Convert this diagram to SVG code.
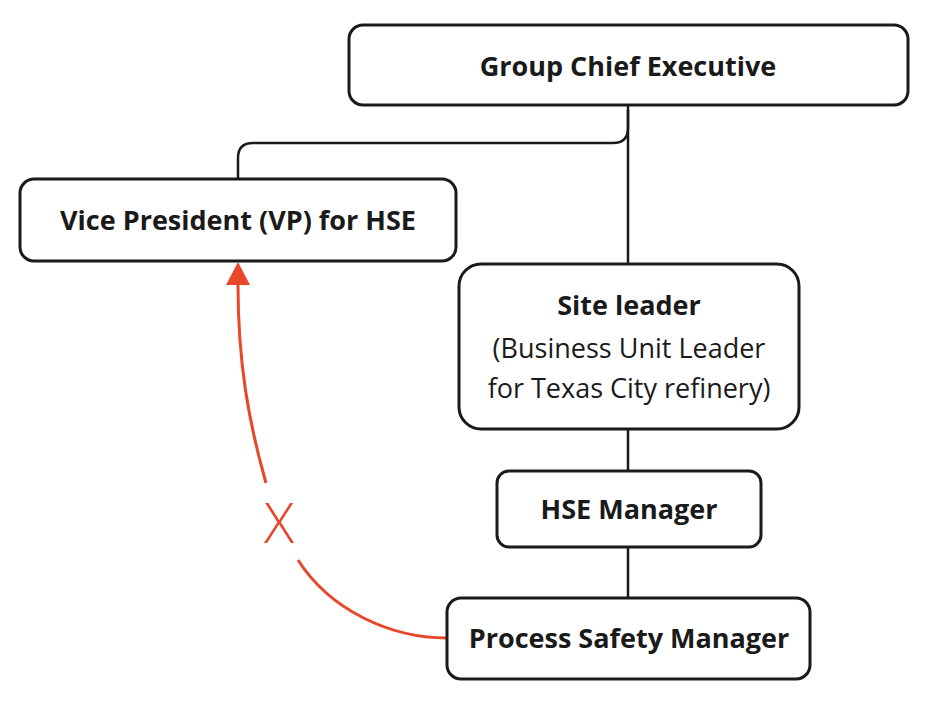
<svg xmlns="http://www.w3.org/2000/svg" width="940" height="707" viewBox="0 0 940 707">
<style>
.box{fill:#fff;stroke:#1a1a1a;stroke-width:3}
.t{font-family:"Open Sans","Noto Sans",sans-serif;font-size:27px;fill:#1a1a1a;text-anchor:middle}
.b{font-weight:700}
.l{font-weight:400}
.c{fill:none;stroke:#1a1a1a;stroke-width:2.5}
.r{fill:none;stroke:#e8472a;stroke-width:3}
</style>
<defs>
<marker id="ah" viewBox="0 0 10 10" refX="9" refY="5" markerWidth="8" markerHeight="8" markerUnits="userSpaceOnUse" orient="auto" style="overflow:visible">
<path d="M0,0 L10,5 L0,10 Z" fill="#e8472a" transform="scale(2.4)"/>
</marker>
</defs>
<rect width="940" height="707" fill="#fff"/>
<g id="connectors">
<path class="c" d="M628,105 V264"/>
<path class="c" d="M628,110 V128 Q628,143 613,143 H253 Q238,143 238,158 V179"/>
<path class="c" d="M628,429 V471"/>
<path class="c" d="M628,547 V598"/>
<path class="r" d="M447,638 C390,638 330,610 298,560"/>
<path class="r" d="M266,483 C248,420 238,360 238,285"/>
<path d="M238,262 L250,285 L226,285 Z" fill="#e8472a"/>
<text x="279" y="543" font-family="Open Sans,sans-serif" font-size="56" font-weight="300" fill="#e8472a" text-anchor="middle">X</text>
</g>
<g id="gce"><rect class="box" x="349" y="25" width="559" height="80" rx="14"/><text class="t b" x="628" y="76">Group Chief Executive</text></g>
<g id="vp"><rect class="box" x="20" y="179" width="436" height="82" rx="14"/><text class="t b" x="238" y="230">Vice President (VP) for HSE</text></g>
<g id="site"><rect class="box" x="459" y="264" width="340" height="165" rx="22"/>
<text class="t b" x="629" y="315">Site leader</text>
<text class="t l" x="629" y="358">(Business Unit Leader</text>
<text class="t l" x="629" y="398">for Texas City refinery)</text></g>
<g id="hse"><rect class="box" x="497" y="471" width="264" height="76" rx="12"/><text class="t b" x="629" y="519">HSE Manager</text></g>
<g id="psm"><rect class="box" x="447" y="598" width="363" height="81" rx="14"/><text class="t b" x="629" y="648">Process Safety Manager</text></g>
</svg>
